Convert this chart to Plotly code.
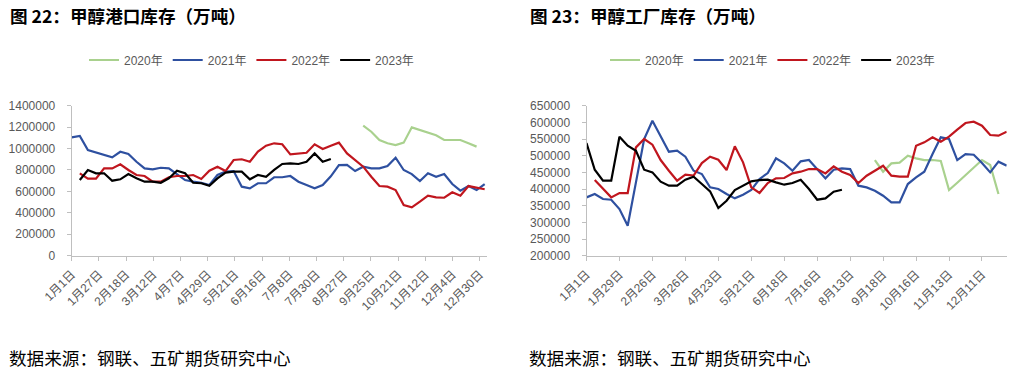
import plotly.graph_objects as go

# ---------------- data ----------------
N_LEFT = 52
N_RIGHT = 52

left_tick_labels = ["1月1日", "1月27日", "2月18日", "3月12日", "4月7日", "4月29日", "5月21日",
                    "6月16日", "7月8日", "7月30日", "8月27日", "9月25日", "10月21日", "11月12日",
                    "12月4日", "12月30日"]
right_tick_labels = ["1月1日", "1月29日", "2月26日", "3月26日", "4月23日", "5月21日", "6月18日",
                     "7月16日", "8月13日", "9月18日", "10月16日", "11月13日", "12月11日"]

# 甲醇港口库存 (吨), weekly points
port_2020 = [None] * 36 + [1213, 1157, 1080, 1049, 1033, 1055, 1198, 1173, 1148, 1124, 1080,
                           1080, 1080, 1049, 1018] + [None]
port_2021 = [1105, 1117, 986, 965, 946, 918, 970, 949, 877, 815, 806, 821, 815, 762, 706, 691,
             681, 660, 753, 784, 790, 644, 629, 676, 676, 732, 732, 744, 691, 660, 629, 660,
             741, 846, 847, 790, 831, 815, 815, 837, 915, 800, 762, 697, 769, 737, 762, 669,
             607, 650, 613, 669]
port_2022 = [None, 769, 719, 719, 815, 815, 853, 800, 753, 744, 691, 691, 732, 744, 744, 753,
             716, 793, 831, 790, 893, 900, 877, 971, 1027, 1049, 1040, 946, 950, 961, 1040,
             996, 1027, 1055, 955, 893, 831, 737, 650, 644, 613, 473, 451, 504, 560, 545, 541,
             592, 560, 650, 638, 620]
port_2023 = [None, 706, 800, 769, 769, 700, 713, 762, 722, 691, 691, 681, 722, 793, 769, 681,
             676, 653, 722, 775, 784, 784, 713, 753, 737, 800, 856, 862, 856, 877, 955, 877,
             902] + [None] * 19

# 甲醇工厂库存 (吨)
plant_2020 = [None] * 35 + [487, 452, 477, 479, 500, 492, 487, 487, 484, 397, 419, 442, 465,
                            487, 472, 385] + [None]
plant_2021 = [375, 385, 370, 368, 340, 290, 420, 550, 605, 560, 512, 515, 497, 455, 445, 405,
              400, 385, 372, 383, 397, 430, 448, 492, 477, 455, 483, 487, 460, 432, 458, 462,
              460, 410, 405, 395, 380, 360, 360, 415, 435, 452, 505, 555, 550, 487, 505, 503,
              478, 450, 482, 470]
plant_2022 = [None, 427, 400, 375, 388, 388, 525, 550, 533, 487, 455, 425, 443, 440, 478, 497,
              488, 457, 528, 480, 405, 388, 418, 432, 433, 447, 452, 460, 460, 447, 468, 452,
              442, 418, 440, 455, 470, 440, 437, 437, 530, 540, 555, 542, 557, 578, 598, 602,
              590, 562, 560, 572]
plant_2023 = [538, 458, 425, 425, 557, 530, 515, 458, 450, 422, 410, 410, 428, 437, 415, 393,
              343, 365, 397, 410, 423, 427, 428, 420, 413, 418, 428, 400, 368, 372, 392,
              398] + [None] * 20

series_names = ["2020年", "2021年", "2022年", "2023年"]
colors = ["#A9D18E", "#2E50A0", "#C0161E", "#000000"]

# ---------------- figure ----------------
W, H = 1020, 370
FONT = "Liberation Sans, Arial, Noto Sans CJK SC, sans-serif"
CJK = "Noto Sans CJK SC, sans-serif"
GRAY = "#595959"
AX = "#BFBFBF"


def scale(vals):
    return [None if v is None else v * 1000 for v in vals]


fig = go.Figure()
left_sets = [port_2020, port_2021, port_2022, port_2023]
right_sets = [plant_2020, plant_2021, plant_2022, plant_2023]
for name, col, vals in zip(series_names, colors, left_sets):
    fig.add_trace(go.Scatter(x=list(range(N_LEFT)), y=scale(vals), mode="lines", name=name,
                             line=dict(color=col, width=2.2), xaxis="x", yaxis="y",
                             legend="legend", connectgaps=False))
for name, col, vals in zip(series_names, colors, right_sets):
    fig.add_trace(go.Scatter(x=list(range(N_RIGHT)), y=scale(vals), mode="lines", name=name,
                             line=dict(color=col, width=2.2), xaxis="x2", yaxis="y2",
                             legend="legend2", connectgaps=False))

left_step = 3.36
left_tickvals = [k * left_step for k in range(len(left_tick_labels))]
right_tickvals = [k * 4 for k in range(len(right_tick_labels))]

common_x = dict(showline=True, linecolor=AX, linewidth=1, ticks="outside", ticklen=4,
                tickcolor=AX, showgrid=False, zeroline=False, tickangle=-45, automargin=False,
                tickfont=dict(family=FONT, size=12, color=GRAY), ticklabelstandoff=2)
common_y = dict(showline=True, linecolor=AX, linewidth=1, ticks="outside", ticklen=4,
                tickcolor=AX, showgrid=False, zeroline=False, automargin=False,
                tickfont=dict(family=FONT, size=12, color=GRAY), ticklabelstandoff=9)

ydom = [1 - 255.7 / H, 1 - 105.7 / H]
fig.update_layout(
    width=W, height=H, margin=dict(l=0, r=0, t=0, b=0, autoexpand=False),
    paper_bgcolor="white", plot_bgcolor="white",
    xaxis=dict(domain=[71.7 / W, 486.7 / W], range=[0, 51.25], tickmode="array",
               tickvals=left_tickvals, ticktext=left_tick_labels, anchor="y", **common_x),
    yaxis=dict(domain=ydom, range=[0, 1400000], dtick=200000, tickformat="d",
               anchor="x", **common_y),
    xaxis2=dict(domain=[586.5 / W, 1006.7 / W], range=[0, 51], tickmode="array",
                tickvals=right_tickvals, ticktext=right_tick_labels, anchor="y2", **common_x),
    yaxis2=dict(domain=ydom, range=[200000, 650000], dtick=50000, tickformat="d",
                anchor="x2", **common_y),
    legend=dict(orientation="h", x=84 / W, y=1 - 60 / H, xanchor="left", yanchor="middle",
                font=dict(family=FONT, size=12, color=GRAY), bgcolor="rgba(0,0,0,0)"),
    legend2=dict(orientation="h", x=605 / W, y=1 - 60 / H, xanchor="left", yanchor="middle",
                 font=dict(family=FONT, size=12, color=GRAY), bgcolor="rgba(0,0,0,0)"),
    showlegend=True,
)

annos = [
    ("图 22：甲醇港口库存（万吨）", 8, 15, True),
    ("图 23：甲醇工厂库存（万吨）", 528, 15, True),
    ("数据来源：钢联、五矿期货研究中心", 7, 357, False),
    ("数据来源：钢联、五矿期货研究中心", 527, 357, False),
]
for text, px, py, bold in annos:
    fig.add_annotation(text=f"<b>{text}</b>" if bold else text, xref="paper", yref="paper",
                       x=px / W, y=1 - py / H, xanchor="left", yanchor="middle",
                       showarrow=False,
                       font=dict(family=CJK, size=17.6, color="#000000"))

fig.write_html("out.html", config={"displayModeBar": False},
               post_script="document.body.style.margin='0px';document.body.style.padding='0px';")
